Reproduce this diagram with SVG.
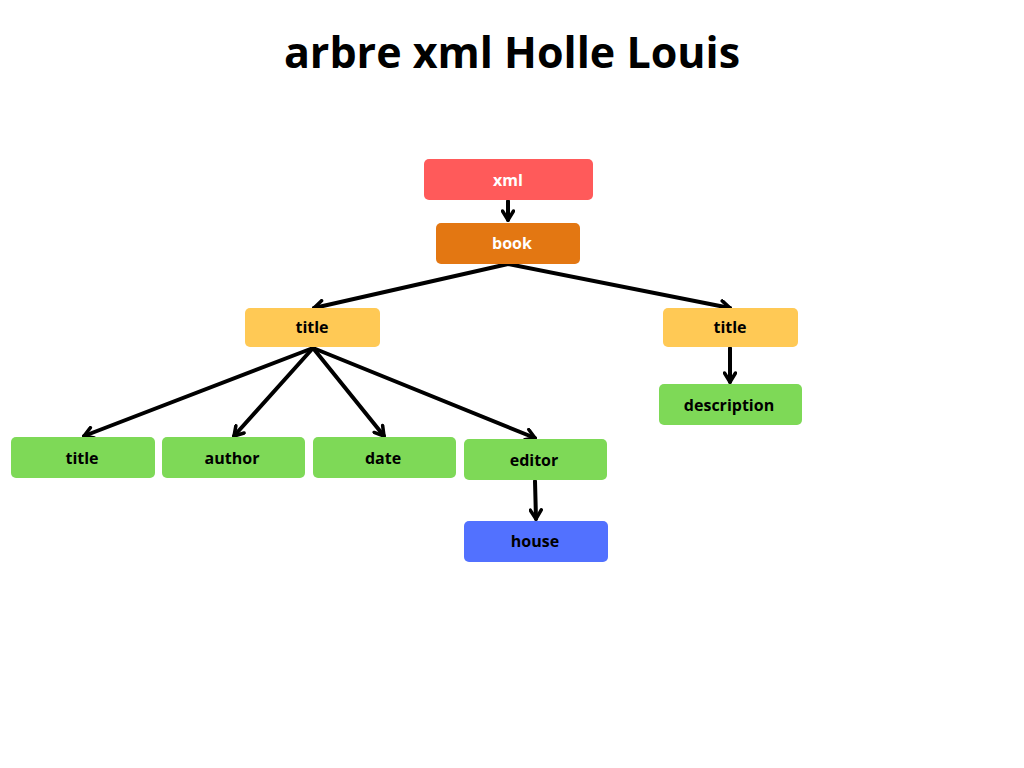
<svg xmlns="http://www.w3.org/2000/svg" width="1024" height="768" viewBox="0 0 1024 768">
<style>
.lbl{font-family:"Open Sans","DejaVu Sans",sans-serif;font-weight:700;font-size:16px;text-anchor:middle;dominant-baseline:central;fill:#000}
.w{fill:#fff}
.red{fill:#FF5A5A}.org{fill:#E37712}.yel{fill:#FFC955}.grn{fill:#7ED957}.blu{fill:#5271FF}
.edge{stroke:#000;stroke-width:4;fill:none;stroke-linecap:round}
</style>
<defs>
<marker id="arr" viewBox="0 0 14 14" refX="12" refY="7" markerWidth="14" markerHeight="14" markerUnits="userSpaceOnUse" orient="auto">
<path d="M3,1.5 L12,7 L3,12.5" fill="none" stroke="#000" stroke-width="3.5" stroke-linecap="round" stroke-linejoin="round"/>
</marker>
</defs>
<rect width="1024" height="768" fill="#fff"/>
<text x="512" y="68" font-family="'Open Sans','DejaVu Sans',sans-serif" font-weight="700" font-size="43" text-anchor="middle" fill="#000">arbre xml Holle Louis</text>
<g id="connectors">
<line class="edge" x1="508" y1="201" x2="508" y2="220" marker-end="url(#arr)"/>
<line class="edge" x1="508" y1="264" x2="314" y2="308" marker-end="url(#arr)"/>
<line class="edge" x1="508" y1="264" x2="730" y2="308" marker-end="url(#arr)"/>
<line class="edge" x1="313" y1="348" x2="84" y2="436" marker-end="url(#arr)"/>
<line class="edge" x1="313" y1="348" x2="234" y2="436" marker-end="url(#arr)"/>
<line class="edge" x1="313" y1="348" x2="384" y2="436" marker-end="url(#arr)"/>
<line class="edge" x1="313" y1="348" x2="535" y2="438" marker-end="url(#arr)"/>
<line class="edge" x1="730" y1="348" x2="730" y2="382" marker-end="url(#arr)"/>
<line class="edge" x1="535" y1="481" x2="536" y2="519" marker-end="url(#arr)"/>
</g>
<g id="n-xml"><rect class="red" x="424" y="159" width="169" height="41" rx="5"/><text class="lbl w" x="508" y="180">xml</text></g>
<g id="n-book"><rect class="org" x="436" y="223" width="144" height="41" rx="5"/><text class="lbl w" x="512" y="243">book</text></g>
<g id="n-title1"><rect class="yel" x="245" y="308" width="135" height="39" rx="5"/><text class="lbl" x="312" y="327">title</text></g>
<g id="n-title2"><rect class="yel" x="663" y="308" width="135" height="39" rx="5"/><text class="lbl" x="730" y="327">title</text></g>
<g id="n-description"><rect class="grn" x="659" y="384" width="143" height="41" rx="5"/><text class="lbl" x="729" y="405">description</text></g>
<g id="n-title3"><rect class="grn" x="11" y="437" width="144" height="41" rx="5"/><text class="lbl" x="82" y="458">title</text></g>
<g id="n-author"><rect class="grn" x="162" y="437" width="143" height="41" rx="5"/><text class="lbl" x="232" y="458">author</text></g>
<g id="n-date"><rect class="grn" x="313" y="437" width="143" height="41" rx="5"/><text class="lbl" x="383" y="458">date</text></g>
<g id="n-editor"><rect class="grn" x="464" y="439" width="143" height="41" rx="5"/><text class="lbl" x="534" y="460">editor</text></g>
<g id="n-house"><rect class="blu" x="464" y="521" width="144" height="41" rx="5"/><text class="lbl" x="535" y="541">house</text></g>
</svg>
